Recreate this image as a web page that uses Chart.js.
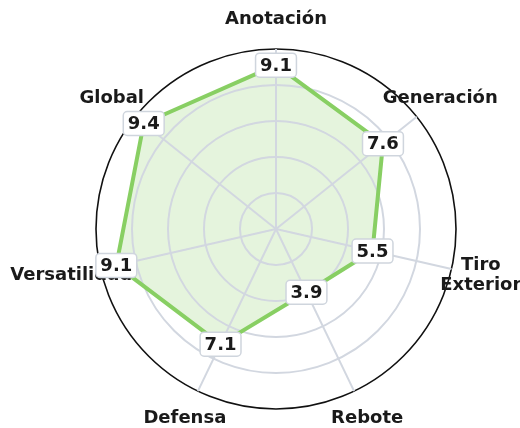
<!DOCTYPE html>
<html>
<head>
<meta charset="utf-8">
<script src="https://cdn.jsdelivr.net/npm/chart.js@4/dist/chart.umd.min.js"></script>
<style>
  body { margin: 0; background: #fff; }
  #wrap { width: 520px; height: 428px; }
</style>
</head>
<body>
<div id="wrap"><canvas id="radar" width="520" height="428"></canvas></div>
<script>
const categories = ['Anotación', 'Generación', ['Tiro', 'Exterior'], 'Rebote', 'Defensa', 'Versatilidad', 'Global'];
const ratings = [9.1, 7.6, 5.5, 3.9, 7.1, 9.1, 9.4];
const scaleMax = 10;
const tickStep = 2;

const FONT = "'DejaVu Sans', sans-serif";
const gridGray = '#d2d7e0';
const lineGreen = '#88cf63';

// outline stroked after the grid (grid sits between fill and line)
const outline = {
    id: 'outline',
    afterDraw(chart) {
        const ctx = chart.ctx;
        const pts = chart.getDatasetMeta(0).data;
        ctx.save();
        ctx.beginPath();
        pts.forEach((p, i) => i ? ctx.lineTo(p.x, p.y) : ctx.moveTo(p.x, p.y));
        ctx.closePath();
        ctx.lineWidth = 4;
        ctx.lineJoin = 'round';
        ctx.strokeStyle = lineGreen;
        ctx.stroke();

        // axis names, centred just outside the outer ring
        const r = chart.scales.r;
        ctx.font = 'bold 18px ' + FONT;
        ctx.fillStyle = '#1a1a1a';
        ctx.textAlign = 'center';
        ctx.textBaseline = 'middle';
        categories.forEach((lab, i) => {
            const p = r.getPointPositionForValue(i, 11.67);
            const lines = Array.isArray(lab) ? lab : [lab];
            lines.forEach((t, k) => {
                ctx.fillText(t, p.x, p.y + (k - (lines.length - 1) / 2) * 20);
            });
        });

        // value boxes on each vertex
        pts.forEach((pt, i) => {
            const txt = ratings[i].toFixed(1);
            const w = ctx.measureText(txt).width + 9;
            const h = 24;
            ctx.beginPath();
            ctx.roundRect(pt.x - w / 2, pt.y - h / 2, w, h, 4);
            ctx.fillStyle = '#ffffff';
            ctx.fill();
            ctx.lineWidth = 1.5;
            ctx.strokeStyle = '#cfd5dd';
            ctx.stroke();
            ctx.fillStyle = '#1a1a1a';
            ctx.fillText(txt, pt.x, pt.y + 1);
        });
        ctx.restore();
    }
};

new Chart(document.getElementById('radar').getContext('2d'), {
    type: 'radar',
    data: {
        labels: categories,
        datasets: [{
            data: ratings,
            borderColor: 'rgba(0,0,0,0)',
            backgroundColor: 'rgba(136,207,99,0.22)',
            borderWidth: 0,
            fill: true,
            pointRadius: 0,
            pointHoverRadius: 0
        }]
    },
    options: {
        responsive: false,
        animation: false,
        layout: { padding: { left: 96, right: 64, top: 49, bottom: 19 } },
        plugins: { legend: { display: false }, tooltip: { enabled: false } },
        scales: {
            r: {
                min: 0,
                max: scaleMax,
                ticks: { display: false, stepSize: tickStep },
                pointLabels: { display: false },
                grid: {
                    z: 1,
                    circular: true,
                    color: c => c.tick && c.tick.value === scaleMax ? '#111111' : gridGray,
                    lineWidth: c => c.tick && c.tick.value === scaleMax ? 1.6 : 2
                },
                angleLines: { color: gridGray, lineWidth: 2 }
            }
        }
    },
    plugins: [outline]
});
</script>
</body>
</html>
